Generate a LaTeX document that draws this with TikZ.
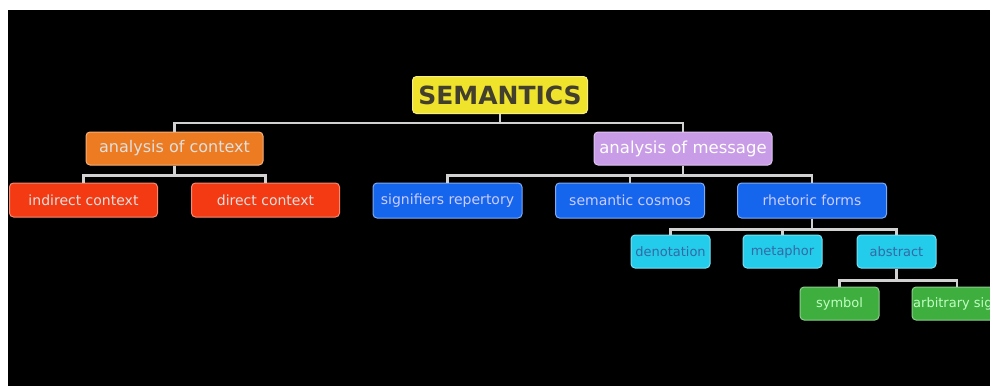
\documentclass[tikz,border=0pt]{standalone}
\usepackage{fontspec}
\setmainfont{DejaVu Sans}
\definecolor{semyellow}{HTML}{F0E32C}
\definecolor{ctxorange}{HTML}{EC7B22}
\definecolor{ctxred}{HTML}{F43A12}
\definecolor{msglilac}{HTML}{C89CE6}
\definecolor{msgblue}{HTML}{1566EC}
\definecolor{rhecyan}{HTML}{22CCEA}
\definecolor{absgreen}{HTML}{3EAE3E}
\begin{document}
\begin{tikzpicture}[x=1pt,y=-1pt,
  box/.style={rounded corners=4pt, line width=1pt, inner sep=0pt, minimum height=34pt,
    font=\fontsize{14}{16}\selectfont, text=white!88!black},
  topbox/.style={box, fill=semyellow, draw=semyellow!60!white, text=black!70!olive,
    minimum width=175pt, minimum height=37pt, font=\fontsize{25}{28}\selectfont\bfseries},
  orangebox/.style={box, fill=ctxorange, draw=ctxorange!60!white, minimum width=177pt, minimum height=33pt,
    font=\fontsize{16}{18}\selectfont},
  redbox/.style={box, fill=ctxred, draw=ctxred!60!white, minimum width=148pt},
  lilacbox/.style={box, fill=msglilac, draw=msglilac!60!white, text=white, minimum width=178pt, minimum height=33pt,
    font=\fontsize{16.5}{18}\selectfont},
  bluebox/.style={box, fill=msgblue, draw=msgblue!55!white, text=white!80!blue, minimum width=149pt, minimum height=35pt},
  cyanbox/.style={box, fill=rhecyan, draw=rhecyan!60!white, text=black!35!cyan!60!blue, minimum width=79pt, minimum height=33pt,
    font=\fontsize{13}{15}\selectfont},
  greenbox/.style={box, fill=absgreen, draw=absgreen!60!white, text=white!75!green, minimum width=79pt, minimum height=33pt,
    font=\fontsize{13}{15}\selectfont},
  link/.style={draw=white!82!black, line width=2.5pt}]
\useasboundingbox (0,0) rectangle (990,386);
\fill[white] (0,0) rectangle (990,386);
\fill[black] (8,10) rectangle (990,386);

% top and second level
\node[topbox] (sem) at (500,95) {SEMANTICS};
\node[orangebox] (ctx) at (174.5,148.5) {analysis of context};
\node[lilacbox] (msg) at (683,148.5) {analysis of message};

% context side
\node[redbox] (ind) at (83.5,200) {indirect context};
\node[redbox] (dir) at (265.5,200) {direct context};

% message side
\node[bluebox] (sig) at (447.5,200.5) {signifiers repertory};
\node[bluebox] (cos) at (630,200.5) {semantic cosmos};
\node[bluebox] (rhe) at (812,200.5) {rhetoric forms};
\node[cyanbox] (den) at (670.5,251.5) {denotation};
\node[cyanbox] (met) at (782.5,251.5) {metaphor};
\node[cyanbox] (abs) at (896.5,251.5) {abstract};
\node[greenbox] (sym) at (839.5,303.5) {symbol};
\node[greenbox, minimum width=90pt] (arb) at (957,303.5) {arbitrary sign};

\draw[link] (sem.south) -- ++(0,9) -| (ctx.north);
\draw[link] (sem.south) -- ++(0,9) -| (msg.north);
\draw[link] (ctx.south) -- ++(0,10) -| (ind.north);
\draw[link] (ctx.south) -- ++(0,10) -| (dir.north);
\draw[link] (msg.south) -- ++(0,10) -| (sig.north);
\draw[link] (msg.south) -- ++(0,10) -| (cos.north);
\draw[link] (msg.south) -- ++(0,10) -| (rhe.north);
\draw[link] (rhe.south) -- ++(0,11) -| (den.north);
\draw[link] (rhe.south) -- ++(0,11) -| (met.north);
\draw[link] (rhe.south) -- ++(0,11) -| (abs.north);
\draw[link] (abs.south) -- ++(0,12) -| (sym.north);
\draw[link] (abs.south) -- ++(0,12) -| (arb.north);
\end{tikzpicture}
\end{document}
